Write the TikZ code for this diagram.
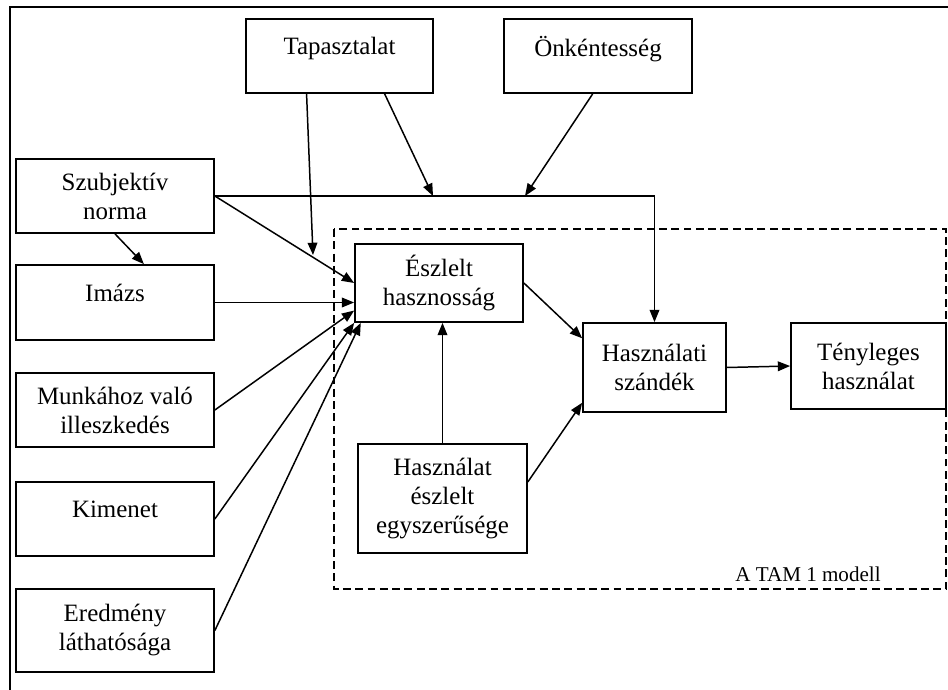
\documentclass[tikz,border=0pt]{standalone}
\usepackage{fontspec}
\setmainfont{Liberation Serif}
\usetikzlibrary{arrows.meta}
\tikzset{
 box/.style={draw,line width=1pt,align=center,inner sep=0pt,font=\fontsize{14.2}{16.5}\selectfont},
 arr/.style={-{Triangle[length=7pt,width=5.5pt]},line width=0.85pt},
 tamframe/.style={line width=0.85pt,dash pattern=on 4.5pt off 2.5pt}
}
\begin{document}
\begin{tikzpicture}[x=0.02cm,y=-0.02cm]
 \useasboundingbox (0,0) rectangle (948,690);
 \draw[line width=1pt] (948,7)--(10,7)--(10,690);
 \draw[tamframe] (334,229) rectangle (946,589);
 \node[font=\fontsize{12}{14}\selectfont] (tamlabel) at (808,574) {A TAM 1 modell};
 \node[box,minimum width=3.74cm,minimum height=1.48cm] (tap) at (339.5,56) {Tapasztalat\\[-10pt] \strut};
 \node[box,minimum width=3.76cm,minimum height=1.48cm] (onk) at (598,56) {Önkéntesség\\[-10pt] \strut};
 \node[box,minimum width=3.96cm,minimum height=1.48cm] (szub) at (115,196) {Szubjektív\\ norma};
 \node[box,minimum width=3.96cm,minimum height=1.5cm] (imazs) at (115,302.5) {Imázs\\[-10pt] \strut};
 \node[box,minimum width=3.96cm,minimum height=1.48cm] (munka) at (115,410) {Munkához való\\ illeszkedés};
 \node[box,minimum width=3.96cm,minimum height=1.48cm] (kimenet) at (115,519) {Kimenet\\[-10pt] \strut};
 \node[box,minimum width=3.96cm,minimum height=1.66cm] (eredmeny) at (115,630.5) {Eredmény\\ láthatósága};
 \node[box,minimum width=3.36cm,minimum height=1.56cm] (eszlelt) at (439,283) {Észlelt\\ hasznosság};
 \node[box,minimum width=2.86cm,minimum height=1.78cm] (szandek) at (654.5,367.5) {Használati\\ szándék};
 \node[box,minimum width=3.1cm,minimum height=1.72cm] (tenyleges) at (868.5,366) {Tényleges\\ használat};
 \node[box,minimum width=3.38cm,minimum height=2.18cm] (egyszer) at (442.5,498.5) {Használat\\ észlelt\\ egyszerűsége};
 \coordinate (j1) at (433,196);
 \coordinate (j2) at (525,196);
 \coordinate (tapend) at (313,255);
 \draw[arr] (szub.east) -| (szandek.north);
 \draw[arr] (tap.-40) -- (j1);
 \draw[arr] (onk.-98) -- (j2);
 \draw[arr] (tap.-131) -- (tapend);
 \draw[arr] (szub.south) -- (imazs.53);
 \draw[arr] (szub.east) -- (eszlelt.west);
 \draw[arr] (imazs.east) -- (imazs.east -| eszlelt.west);
 \draw[arr] (munka.east) -- (eszlelt.198);
 \draw[arr] (kimenet.east) -- (eszlelt.south west);
 \draw[arr] (eredmeny.east) -- (eszlelt.207);
 \draw[arr] (eszlelt.east) -- (szandek.158);
 \draw[arr] (egyszer.north) -- (egyszer.north |- eszlelt.south);
 \draw[arr] (egyszer.11) -- (szandek.206);
 \draw[arr] (szandek.east) -- (tenyleges.west);
\end{tikzpicture}
\end{document}
